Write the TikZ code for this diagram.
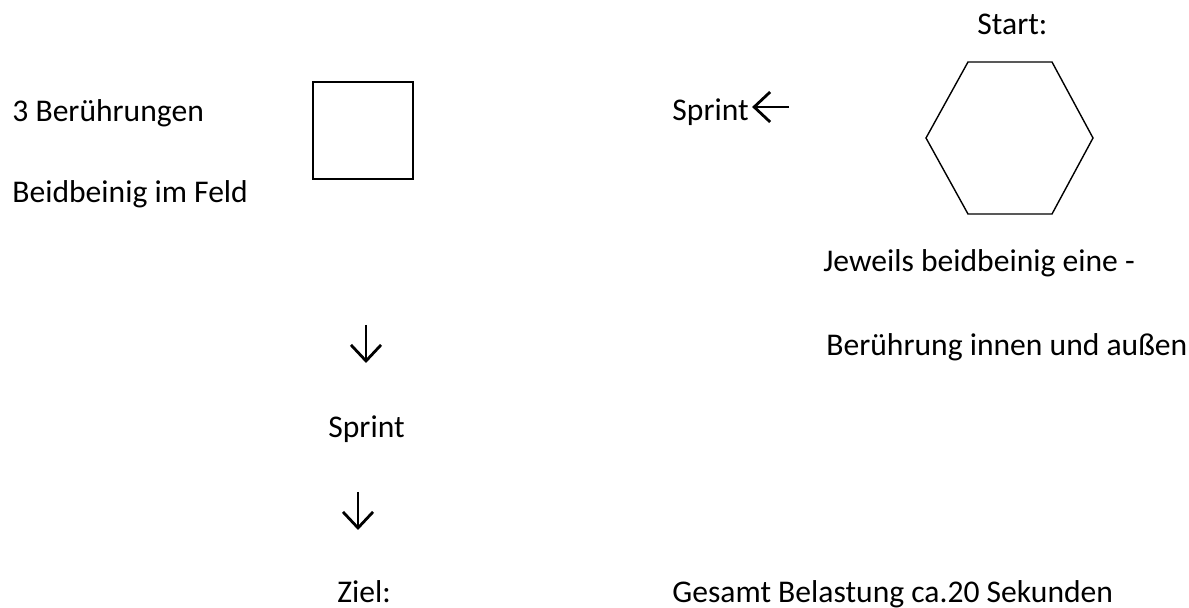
\documentclass[tikz,border=0pt]{standalone}
\usepackage{fontspec}
\setmainfont{Carlito}
\usetikzlibrary{arrows.meta}
\tikzset{%
  label text/.style={anchor=base west, inner sep=0pt, font=\fontsize{15.8}{19}\selectfont},
  glyph arrow/.style={line width=1.4pt, -{Straight Barb[length=8pt,width=15pt]}},
  field line/.style={line width=0.9pt},
  hex line/.style={line width=0.7pt}
}

\begin{document}
\begin{tikzpicture}[x=0.5pt,y=-0.5pt]
    \useasboundingbox (0,0) rectangle (1189,608);
    % left field with its labels
    \draw[field line] (313,82) rectangle (413,179);
    \node[label text] (touches) at (12,122) {3 Berührungen};
    \node[label text] (bothlegs) at (12,203) {Beidbeinig im Feld};
    % start hexagon
    \node[label text] (start) at (977,35) {Start:};
    \draw[hex line] (968,62) -- (1052,62) -- (1093,138) -- (1052,214)
      -- (968,214) -- (926,138) -- cycle;
    \node[label text] (sprintTop) at (672,121) {Sprint};
    \coordinate (sprintArrowTail) at (789,107);
    \draw[glyph arrow] (sprintArrowTail) -- ([xshift=1.5pt]sprintTop.east |- sprintArrowTail);
    \node[label text] (eachLeg) at (823,272) {Jeweils beidbeinig eine -};
    \node[label text] (innerOuter) at (826,356) {Berührung innen und außen};
    % down the left side to the goal
    \node[label text] (sprintMid) at (328,438) {Sprint};
    \node[label text] (goal) at (337,603) {Ziel:};
    \coordinate (downA) at (366,325);
    \coordinate (downAEnd) at (366,363);
    \coordinate (downB) at (358,492);
    \coordinate (downBEnd) at (358,530);
    \draw[glyph arrow] (downA) -- (downAEnd);
    \draw[glyph arrow] (downB) -- (downBEnd);
    \node[label text] (total) at (672,603) {Gesamt Belastung ca.20 Sekunden};
\end{tikzpicture}
\end{document}
